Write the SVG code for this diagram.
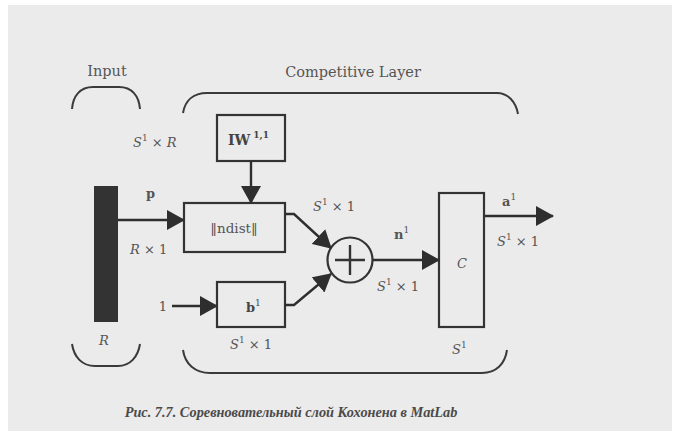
<svg xmlns="http://www.w3.org/2000/svg" width="673" height="436" viewBox="0 0 673 436">
<defs>
<style>
.bg{fill:#ebebeb}
.box{fill:none;stroke:#333;stroke-width:2.2}
.ln{fill:none;stroke:#2e2e2e;stroke-width:2.4}
.br{fill:none;stroke:#3a3a3a;stroke-width:2}
.t{font-family:"DejaVu Serif","Liberation Serif",serif;fill:#555;font-size:13px}
.i{font-style:italic}
.b{font-weight:bold}
.cap{font-family:"Liberation Serif","DejaVu Serif",serif;font-style:italic;font-weight:bold;fill:#4a4a4a;font-size:14.3px}
</style>
<marker id="ahb" markerWidth="18" markerHeight="20" refX="17" refY="10" orient="auto" markerUnits="userSpaceOnUse" viewBox="0 0 18 20">
<path d="M0,0 L18,10 L0,20 z" fill="#2e2e2e"/>
</marker>
</defs>
<rect x="0" y="0" width="673" height="436" fill="#fff"/>
<rect class="bg" x="8" y="5" width="664" height="426"/>

<g id="brackets">
<path class="br" d="M72,109 C73,96 80,87 93,87 L119,87 C132,87 139,96 140,109"/>
<path class="br" d="M183,113 C185,101 193,93 207,93 L497,93 C508,93 516,102 518,114"/>
<path class="br" d="M72,344 C74,357 82,366 95,366 L118,366 C130,366 138,357 140,344"/>
<path class="br" d="M183,350 C185,364 195,373 210,373 L482,373 C496,373 505,364 507,350"/>
</g>

<g id="labels">
<text class="t" x="107" y="76" text-anchor="middle" style="font-size:14.5px">Input</text>
<text class="t" x="353" y="77" text-anchor="middle" style="font-size:14.5px">Competitive Layer</text>
<text class="t" x="133" y="147"><tspan class="i">S</tspan><tspan font-size="9" dy="-6">1</tspan><tspan dy="6"> × </tspan><tspan class="i">R</tspan></text>
<text class="t b" x="146" y="198">p</text>
<text class="t" x="130" y="254"><tspan class="i">R</tspan> × 1</text>
<text class="t" x="163" y="311" text-anchor="middle">1</text>
<text class="t i" x="104" y="345" text-anchor="middle">R</text>
<text class="t" x="230" y="349"><tspan class="i">S</tspan><tspan font-size="9" dy="-6">1</tspan><tspan dy="6"> × 1</tspan></text>
<text class="t" x="313" y="211"><tspan class="i">S</tspan><tspan font-size="9" dy="-6">1</tspan><tspan dy="6"> × 1</tspan></text>
<text class="t b" x="394" y="239">n<tspan font-size="9" font-weight="normal" dy="-6">1</tspan></text>
<text class="t" x="377" y="291"><tspan class="i">S</tspan><tspan font-size="9" dy="-6">1</tspan><tspan dy="6"> × 1</tspan></text>
<text class="t b" x="502" y="206">a<tspan font-size="9" font-weight="normal" dy="-6">1</tspan></text>
<text class="t" x="497" y="246"><tspan class="i">S</tspan><tspan font-size="9" dy="-6">1</tspan><tspan dy="6"> × 1</tspan></text>
<text class="t" x="452" y="354"><tspan class="i">S</tspan><tspan font-size="9" dy="-6">1</tspan></text>
</g>

<g id="input">
<rect x="94" y="186" width="24" height="136" fill="#333"/>
</g>

<g id="iw">
<rect class="box" x="217" y="115" width="68" height="46"/>
<text class="t b" x="228" y="145" style="fill:#444;font-size:14px">IW<tspan font-size="9" dx="3" dy="-7">1,1</tspan></text>
</g>

<g id="ndist">
<rect class="box" x="184" y="203" width="101" height="49"/>
<text class="t" x="234" y="233" text-anchor="middle" style="font-size:13.5px">‖ndist‖</text>
</g>

<g id="bias">
<rect class="box" x="217" y="282" width="68" height="45"/>
<text class="t b" x="246" y="312" style="fill:#444">b<tspan font-size="9" font-weight="normal" dy="-6">1</tspan></text>
</g>

<g id="sum">
<circle cx="350" cy="260" r="22.5" fill="none" stroke="#333" stroke-width="2.2"/>
<path d="M335,260 H365 M350,245 V275" stroke="#333" stroke-width="2.4"/>
</g>

<g id="compet">
<rect class="box" x="439" y="193" width="45" height="134"/>
<text class="t i" x="462" y="268" text-anchor="middle">C</text>
</g>

<g id="caption">
<text class="cap" x="291" y="417" text-anchor="middle">Рис. 7.7. Соревновательный слой Кохонена в MatLab</text>
</g>

<g id="connectors">
<path class="ln" d="M251,161 V203" marker-end="url(#ahb)"/>
<path class="ln" d="M118,220 H184" marker-end="url(#ahb)"/>
<path class="ln" d="M172,306 H217" marker-end="url(#ahb)"/>
<path class="ln" d="M285,214 H294 L331,248" marker-end="url(#ahb)"/>
<path class="ln" d="M285,305 H294 L331,274" marker-end="url(#ahb)"/>
<path class="ln" d="M373,260 H439" marker-end="url(#ahb)"/>
<path class="ln" d="M484,216 H553" marker-end="url(#ahb)"/>
</g>
</svg>
